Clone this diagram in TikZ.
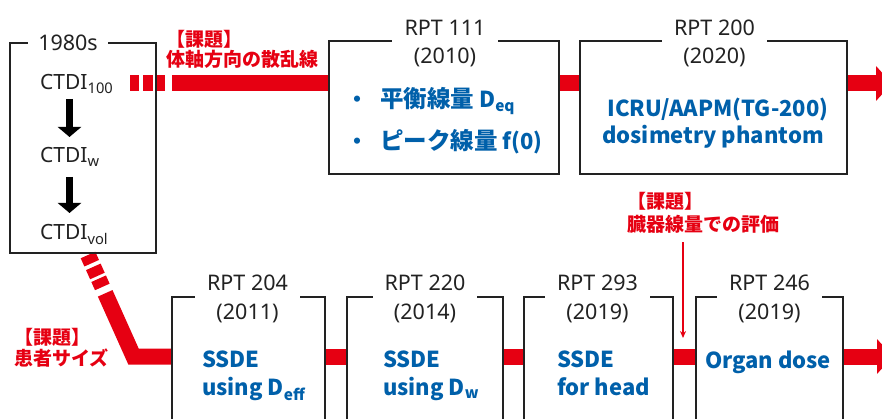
\documentclass[tikz,border=0pt]{standalone}
\usepackage{fontspec}
\setmainfont{Noto Sans}
\newfontfamily\jp{Noto Sans CJK JP}
\usetikzlibrary{arrows.meta,calc,backgrounds}
\definecolor{kred}{RGB}{230,0,18}
\definecolor{kblue}{RGB}{0,96,170}
\definecolor{kgray}{RGB}{34,34,34}
\newcommand{\bigjp}[1]{{\fontsize{23.5}{28}\selectfont #1}}
\tikzset{
  box/.style={draw=kgray, line width=1.3pt, fill=white, inner sep=0pt},
  ttl/.style={fill=white, inner sep=0pt, minimum height=32pt, text=kgray,
    font=\fontsize{21.5}{26}\selectfont},
  yr/.style={inner sep=0pt, text=kgray, font=\fontsize{21.5}{26}\selectfont},
  ctdi/.style={inner sep=0pt, anchor=base west, text=kgray, font=\fontsize{21}{25}\selectfont},
  bluetxt/.style={inner sep=0pt, text=kblue, font=\jp\fontsize{22}{28}\selectfont\bfseries},
  redlbl/.style={inner sep=0pt, anchor=base west, text=kred, font=\jp\fontsize{19}{22}\selectfont\bfseries},
  redline/.style={draw=kred, line width=16pt, line join=miter},
  redarrow/.style={draw=kred, line width=16pt, -{Triangle[width=34pt,length=16pt]}},
  bigarrow/.style={draw=black, line width=7pt, -{Triangle[width=23pt,length=10pt]}},
  thinred/.style={draw=kred, line width=1.4pt, -{Stealth[width=6pt,length=7pt]}},
  dashstart/.style={dash pattern=on 9pt off 4pt on 10pt off 3pt on 9pt off 7pt on 800pt off 1pt}
}
\begin{document}
\begin{tikzpicture}[x=1pt,y=-1pt]
\clip (0,0) rectangle (882,419);

% boxes
\node[box, fill=none, minimum width=146pt, minimum height=210pt] (b80) at (83,148) {};
\node[box, minimum width=230pt, minimum height=133pt] (r111) at (444,107.5) {};
\node[box, minimum width=267pt, minimum height=133pt] (r200) at (713.5,107.5) {};
\node[box, minimum width=153pt, minimum height=143pt] (r204) at (248.5,368.5) {};
\node[box, minimum width=156pt, minimum height=143pt] (r220) at (425,368.5) {};
\node[box, minimum width=149pt, minimum height=143pt] (r293) at (598.5,368.5) {};
\node[box, minimum width=147pt, minimum height=143pt] (r246) at (769.5,368.5) {};

% titles
\node[ttl, minimum width=80pt] (t80) at (68,43) {1980s};
\node[ttl, minimum width=106pt] (t111) at (445,28) {RPT 111};
\node[yr] (y111) at (445,57) {(2010)};
\node[ttl, minimum width=105pt] (t200) at (714.5,28) {RPT 200};
\node[yr] (y200) at (714.5,57) {(2020)};
\node[ttl, minimum width=105pt] (t204) at (247.5,283) {RPT 204};
\node[yr] (y204) at (247.5,313) {(2011)};
\node[ttl, minimum width=104pt] (t220) at (425,283) {RPT 220};
\node[yr] (y220) at (425,313) {(2014)};
\node[ttl, minimum width=105pt] (t293) at (597.5,283) {RPT 293};
\node[yr] (y293) at (597.5,313) {(2019)};
\node[ttl, minimum width=105pt] (t246) at (769.5,283) {RPT 246};
\node[yr] (y246) at (769.5,313) {(2019)};

% 1980s contents
\node[ctdi] (c100) at (40,90) {CTDI\textsubscript{100}};
\node[ctdi] (cw) at (40,163) {CTDI\textsubscript{w}};
\node[ctdi] (cvol) at (40,240) {CTDI\textsubscript{vol}};
\draw[bigarrow] ($(c100.base west)+(29.5,9)$) -- ($(cw.base west)+(29.5,-26)$);
\draw[bigarrow] ($(cw.base west)+(29.5,14)$) -- ($(cvol.base west)+(29.5,-27)$);

% RPT 111 contents
\node[bluetxt, anchor=base] (bu1) at (357,108) {・};
\node[bluetxt, anchor=base west] (l1) at (380,108) {\bigjp{平衡線量} D\textsubscript{eq}};
\node[bluetxt, anchor=base] (bu2) at (357,150) {・};
\node[bluetxt, anchor=base west] (l2) at (380,150) {\bigjp{ピーク線量} f(0)};

% RPT 200 contents
\node[bluetxt, anchor=base] (p1) at (718,117) {ICRU/AAPM(TG-200)};
\node[bluetxt, anchor=base] (p2) at (713,144) {dosimetry phantom};

% bottom contents
\node[bluetxt, anchor=base west] (s1) at (202,367) {SSDE};
\node[bluetxt, anchor=base west] (s1b) at (202,395) {using D\textsubscript{eff}};
\node[bluetxt, anchor=base west] (s2) at (383,367) {SSDE};
\node[bluetxt, anchor=base west] (s2b) at (383,395) {using D\textsubscript{w}};
\node[bluetxt, anchor=base west] (s3) at (557,367) {SSDE};
\node[bluetxt, anchor=base west] (s3b) at (557,395) {for head};
\node[bluetxt, anchor=base] (og) at (768,368) {Organ dose};

% red labels
\node[redlbl] (k1a) at (166,47) {【課題】};
\node[redlbl] (k1b) at (166,67) {体軸方向の散乱線};
\node[redlbl] (k2a) at (627,209) {【課題】};
\node[redlbl] (k2b) at (627,232) {臓器線量での評価};
\node[redlbl] (k3a) at (14,344) {【課題】};
\node[redlbl] (k3b) at (14,365) {患者サイズ};

% red connectors
\coordinate (t0) at (130,83.5);
\coordinate (tE) at (892,83.5);
\coordinate (d0) at (88,255);
\coordinate (dc) at (133.5,356.5);
\coordinate (bE) at (893,356.5);
\coordinate (ax) at (683,338);
\begin{scope}[on background layer]
\fill[white] (0,0) rectangle (882,419);
\draw[redline, dashstart] (t0) -- (t0 -| r111.west);
\draw[redline] (t0 -| r111.east) -- (t0 -| r200.west);
\draw[redarrow] (t0 -| r200.east) -- (tE);
\draw[redline, dashstart] (d0) -- (dc) -- (dc -| r204.west);
\draw[redline] (dc -| r204.east) -- (dc -| r220.west);
\draw[redline] (dc -| r220.east) -- (dc -| r293.west);
\draw[redline] (dc -| r293.east) -- (dc -| r246.west);
\draw[redarrow] (dc -| r246.east) -- (bE);
\end{scope}
\draw[thinred] (ax |- k2b.south) ++(0,8) -- (ax);
\end{tikzpicture}
\end{document}
